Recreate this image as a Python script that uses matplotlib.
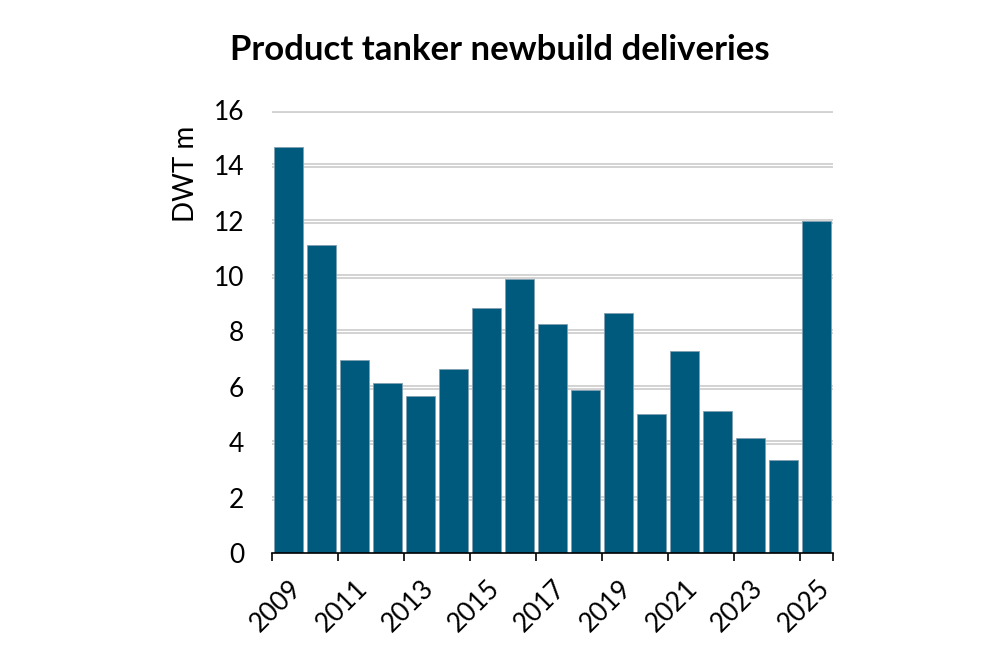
import numpy as np
import matplotlib
matplotlib.use('Agg')
import matplotlib.pyplot as plt

years = list(range(2009, 2026))
dwt = [14.66, 11.12, 6.97, 6.14, 5.67, 6.65, 8.85, 9.90, 8.27, 5.89,
       8.67, 5.02, 7.30, 5.13, 4.15, 3.36, 11.99]
yticks = [0, 2, 4, 6, 8, 10, 12, 14, 16]

plt.rcParams['font.family'] = ['Lato', 'DejaVu Sans']

fig = plt.figure(figsize=(10, 6.67), dpi=100)
ax = fig.add_axes([0.272, 0.171, 0.561, 0.664])

x = np.arange(len(years))
ax.bar(x, dwt, width=0.9, color='#005a7e', edgecolor='#7f9fb0', linewidth=0.6, zorder=3)

# double-looking gridlines
for v in yticks[1:]:
    ax.axhline(v, color='#cccccc', linewidth=3.4, zorder=1)
    ax.axhline(v, color='white', linewidth=1.0, zorder=2)

ax.set_xlim(-0.5, len(years) - 0.5)
ax.set_ylim(0, 16)
ax.set_yticks(yticks)
ax.tick_params(axis='y', length=0, labelsize=19, pad=20)

ax.set_xticks(np.arange(-0.5, len(years), 2).tolist() + [len(years) - 0.5])
ax.set_xticklabels([])
ax.tick_params(axis='x', which='major', length=6, width=1.2, direction='out')
ax.set_xticks(x[::2], minor=True)
ax.set_xticklabels([str(y) for y in years[::2]], minor=True, rotation=45,
                   ha='right', va='top', rotation_mode='anchor', fontsize=19)
ax.tick_params(axis='x', which='minor', length=0, pad=16)

for s in ['top', 'right', 'left']:
    ax.spines[s].set_visible(False)
ax.spines['bottom'].set_linewidth(1.2)
ax.spines['bottom'].set_zorder(4)

ax.set_ylabel('DWT m', fontsize=20)
ax.yaxis.set_label_coords(-0.13, 0.855)
fig.text(0.5, 0.925, 'Product tanker newbuild deliveries', ha='center', va='center',
         fontsize=25, fontweight='bold')

plt.savefig('out.png', dpi=100)
